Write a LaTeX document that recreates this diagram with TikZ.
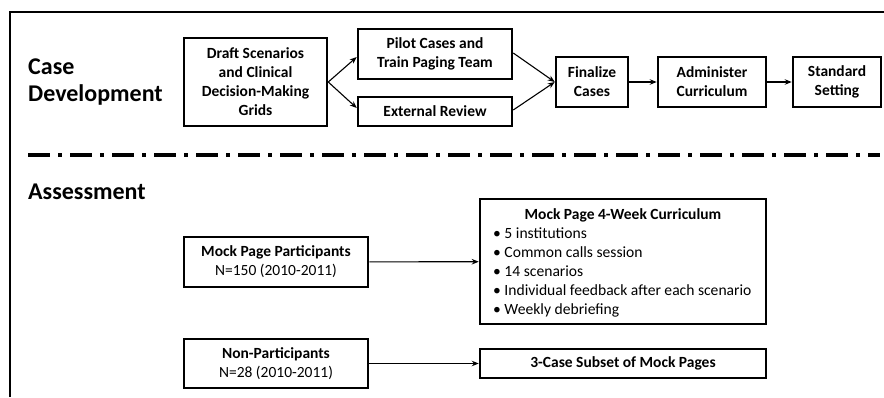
\documentclass[tikz,border=0pt]{standalone}
\usepackage{fontspec}
\setmainfont{Carlito}
\usetikzlibrary{arrows.meta}
\begin{document}
\begin{tikzpicture}[x=1pt,y=-1pt,
  frame/.style={line width=2.6pt},
  box/.style={draw,line width=2.5pt,inner sep=0pt,align=center,font=\bfseries\fontsize{15.5}{19}\selectfont},
  arr/.style={-{Stealth[length=7pt,width=5.5pt]},line width=1.1pt},
  head/.style={font=\bfseries\fontsize{24}{27}\selectfont,align=left,inner sep=0pt},
  listtext/.style={font=\fontsize{15.6}{19}\selectfont,align=left,inner sep=0pt},
  sep/.style={line width=3.5pt,dash pattern=on 22pt off 8pt on 4pt off 8pt}]
\useasboundingbox (0,0) rectangle (884,397);
\draw[frame] (10,397) -- (10,12) -- (884,12);
% headings
\node[head,anchor=base west] (hcase) at (28,101) {Case\\Development};
\node[head,anchor=base west] (hass) at (28,199) {Assessment};
% separator
\coordinate (sepL) at (28,155);
\coordinate (sepR) at (880,155);
\draw[sep] (sepL) -- (sepR);
% case development boxes
\node[box,minimum width=143pt,minimum height=88pt] (draft) at (255.5,82) {Draft Scenarios\\and Clinical\\Decision-Making\\Grids};
\node[box,minimum width=154pt,minimum height=50pt] (pilot) at (435,54) {Pilot Cases and\\Train Paging Team};
\node[box,minimum width=154pt,minimum height=29pt] (ext) at (435,111.5) {External Review};
\node[box,minimum width=72pt,minimum height=50pt] (fin) at (592,82) {Finalize\\Cases};
\node[box,minimum width=108pt,minimum height=50pt] (adm) at (712,82) {Administer\\Curriculum};
\node[box,minimum width=88pt,minimum height=50pt] (std) at (837,82) {Standard\\Setting};
\draw[arr] (draft.east) -- ([yshift=-3pt]pilot.west);
\draw[arr] (draft.east) -- ([yshift=3.5pt]ext.west);
\draw[arr] ([yshift=1pt]pilot.east) -- (fin.west);
\draw[arr] ([yshift=1.5pt]ext.east) -- (fin.west);
\draw[arr] (fin) -- (adm);
\draw[arr] (adm) -- (std);
% assessment boxes
\node[box,font=\fontsize{15.5}{19}\selectfont,minimum width=184pt,minimum height=50pt] (mpp) at (276,262) {\textbf{Mock Page Participants}\\N=150 (2010-2011)};
\node[box,font=\fontsize{15.5}{19}\selectfont,minimum width=184pt,minimum height=49pt] (np) at (276,363.5) {\textbf{Non-Participants}\\N=28 (2010-2011)};
\node[box,minimum width=286pt,minimum height=125pt] (cur) at (623,261.5) {};
\node[box,draw=none,anchor=base] (curtitle) at (623,219) {Mock Page 4-Week Curriculum};
\node[listtext,anchor=base west] (curlist) at (493,314) {• 5 institutions\\• Common calls session\\• 14 scenarios\\• Individual feedback after each scenario\\• Weekly debriefing};
\node[box,minimum width=286pt,minimum height=29pt] (sub) at (623,363.5) {3-Case Subset of Mock Pages};
\draw[arr] (mpp) -- (cur);
\draw[arr] (np) -- (sub);
\end{tikzpicture}
\end{document}
